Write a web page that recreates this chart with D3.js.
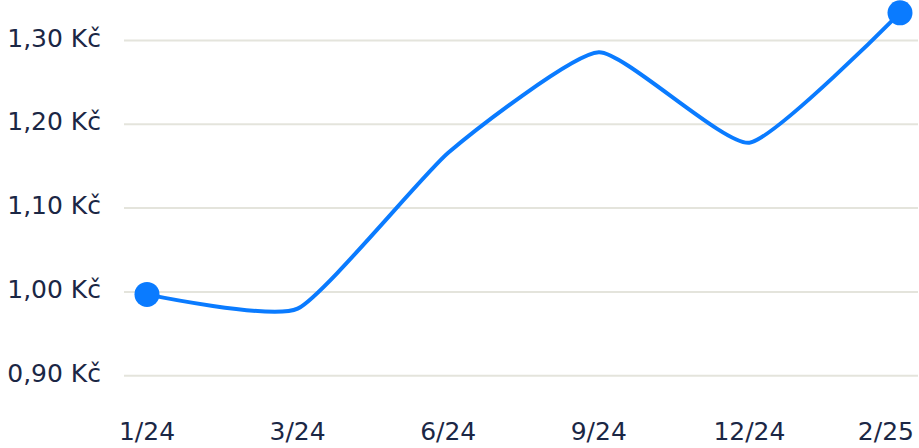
<!DOCTYPE html>
<html>
<head>
<meta charset="utf-8">
<style>
    body { margin: 0; background: #fff; }
    svg { font-family: "DejaVu Sans", sans-serif; }
    .grid line { stroke: #e4e4dc; stroke-width: 2; }
    .label { fill: #1b2745; font-size: 25px; }
</style>
</head>
<body>
<script src="https://d3js.org/d3.v7.min.js"></script>
<script>
    // data
    var months = ["1/24", "3/24", "6/24", "9/24", "12/24", "2/25"];
    var prices = [0.997, 0.980, 1.166, 1.286, 1.178, 1.333];
    var yTicks = [0.9, 1.0, 1.1, 1.2, 1.3];

    var width = 919, height = 448;

    var svg = d3.select("body").append("svg")
        .attr("width", width)
        .attr("height", height);

    var x = d3.scalePoint().domain(months).range([147, 900]);
    var y = d3.scaleLinear().domain([0.9, 1.3]).range([375.7, 40.5]);

    var fmt = function(v) { return d3.format(".2f")(v).replace(".", ",") + " Kč"; };

    // gridlines
    svg.append("g").attr("class", "grid")
        .selectAll("line")
        .data(yTicks)
        .enter().append("line")
        .attr("x1", 124).attr("x2", 918)
        .attr("y1", function(d) { return y(d); })
        .attr("y2", function(d) { return y(d); });

    // y labels
    svg.append("g")
        .selectAll("text")
        .data(yTicks)
        .enter().append("text")
        .attr("class", "label")
        .attr("text-anchor", "end")
        .attr("x", 101)
        .attr("y", function(d) { return y(d) + 6; })
        .text(fmt);

    // x labels, last one kept inside the frame
    svg.append("g")
        .selectAll("text")
        .data(months)
        .enter().append("text")
        .attr("class", "label")
        .attr("text-anchor", "middle")
        .attr("x", function(d) { return x(d); })
        .attr("y", 440)
        .text(function(d) { return d; })
        .each(function() {
            var b = this.getBBox();
            if (b.x + b.width > 914) d3.select(this).attr("x", +d3.select(this).attr("x") - (b.x + b.width - 914));
        });

    var line = d3.line()
        .x(function(d, i) { return x(months[i]); })
        .y(function(d) { return y(d); })
        .curve(d3.curveCardinal.tension(0.5));

    svg.append("path")
        .datum(prices)
        .attr("fill", "none")
        .attr("stroke", "#0a7bff")
        .attr("stroke-width", 4)
        .attr("d", line);

    var ends = [0, prices.length - 1];
    svg.selectAll(".dot")
        .data(ends)
        .enter().append("circle")
        .attr("class", "dot")
        .attr("cx", function(i) { return x(months[i]); })
        .attr("cy", function(i) { return y(prices[i]); })
        .attr("r", 12.5)
        .attr("fill", "#0a7bff");
</script>
</body>
</html>
